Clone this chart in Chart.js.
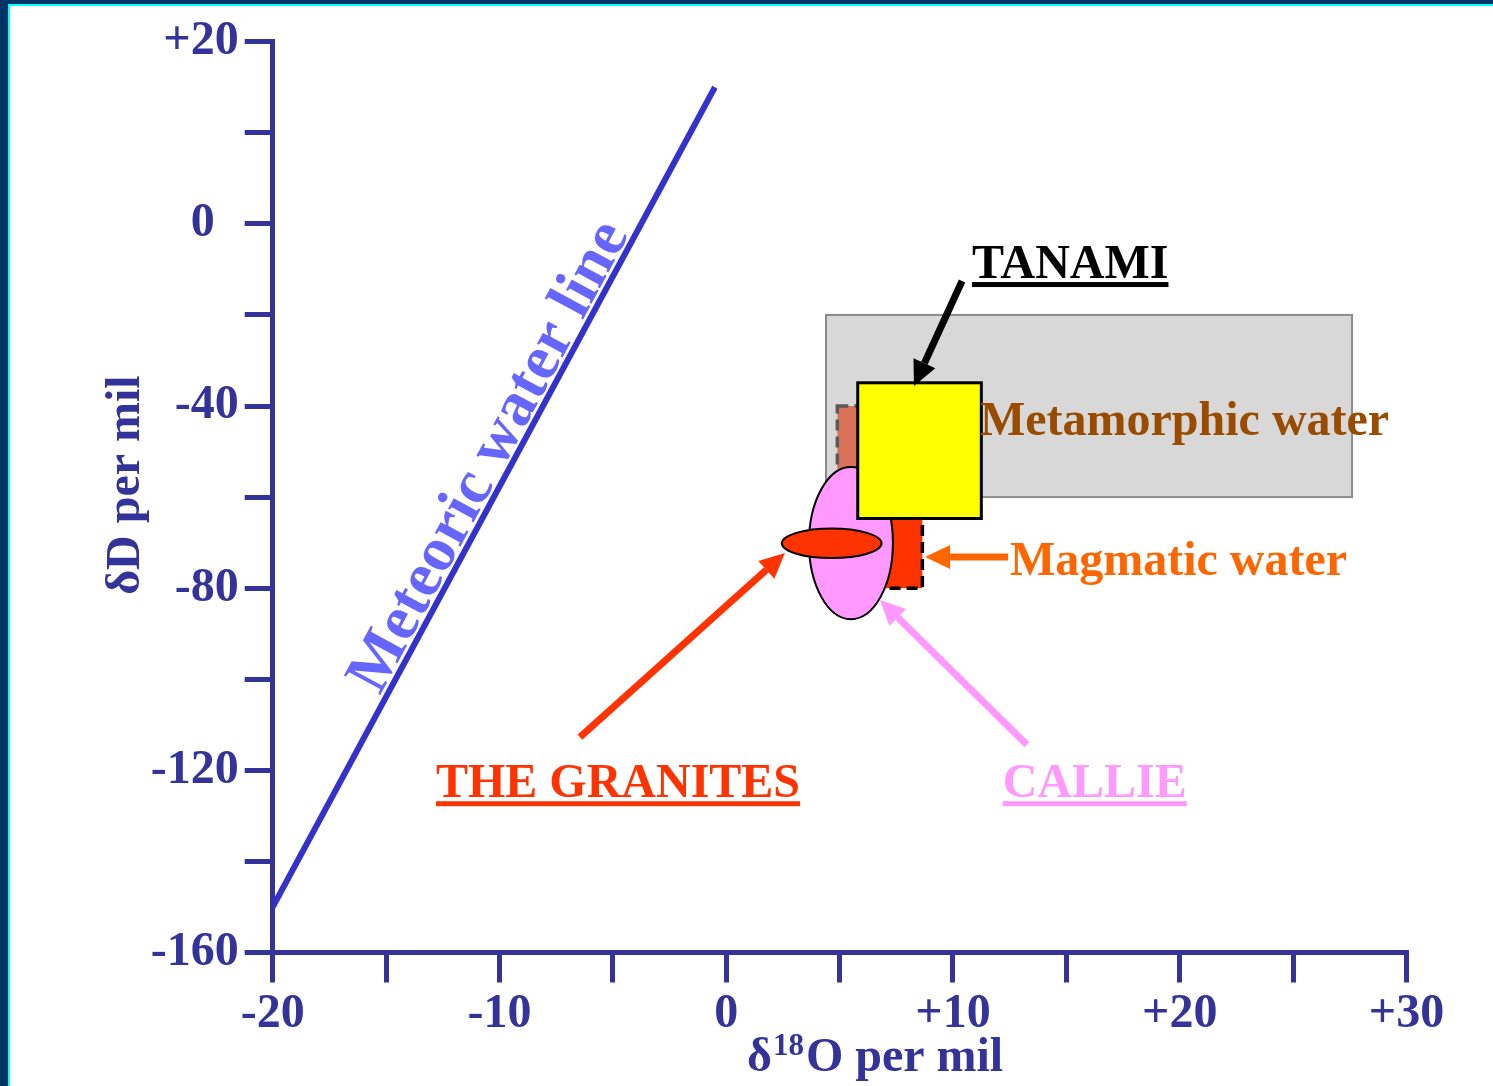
<!DOCTYPE html>
<html>
<head>
<meta charset="utf-8">
<script src="https://cdn.jsdelivr.net/npm/chart.js@4.4.1/dist/chart.umd.min.js"></script>
<style>
  html,body{margin:0;padding:0;background:#fff;}
  #wrap{position:absolute;left:0;top:0;width:1493px;height:1086px;}
</style>
</head>
<body>
<div id="wrap"><canvas id="c" width="1493" height="1086"></canvas></div>
<script>
// ═══════════════════════════════════════════════════════════════
// DATA  (δ18O on x, δD on y, per mil)
// ═══════════════════════════════════════════════════════════════
const mwlX = [-20, -0.5];            // meteoric water line ends
const mwlY = [-150, 30];

const xTickValues = [-20, -10, 0, 10, 20, 30];
const xTickLabels = ['-20', '-10', '0', '+10', '+20', '+30'];
const yTickValues = [40, 0, -40, -80, -120, -160];
const yTickLabels = ['+20', '0\u2002', '-40', '-80', '-120', '-160'];

// fields as [xMin, xMax, yMin, yMax]
const magmaticBox    = [4.9, 8.65, -80, -40];
const metamorphicBox = [4.4, 27.6, -60, -20];
const tanamiBox      = [5.8, 11.25, -64.7, -34.9];
const callieEllipse  = [3.65, 7.35, -86.8, -53.4];
const granitesEllipse= [2.45, 6.85, -73.4, -66.9];

// labels with their arrows
const arrowNames  = ['TANAMI', 'Magmatic water', 'THE GRANITES', 'CALLIE'];
const arrowFromX  = [10.4, 12.43, -6.45, 13.26];
const arrowFromY  = [-12.55, -73.15, -112.7, -114.4];
const arrowToX    = [8.28, 8.77, 2.59, 6.78];
const arrowToY    = [-35.6, -73.15, -72.3, -82.6];

const labelNames  = ['TANAMI', 'Metamorphic water', 'Magmatic water', 'THE GRANITES', 'CALLIE'];
const labelX      = [10.84, 11.19, 12.51, -12.8, 12.19];
const labelY      = [-11.9, -46.4, -77.0, -125.9, -125.9];

const NAVY = '#333399';
const FONT = '"Liberation Serif","Times New Roman",serif';
const arrowColors = {'TANAMI':'#000000','Magmatic water':'#FF6600','THE GRANITES':'#FF3300','CALLIE':'#FF99FF'};
const labelStyle = {
  'TANAMI':{color:'#000000',under:true},
  'Metamorphic water':{color:'#994C00',under:false},
  'Magmatic water':{color:'#FF6600',under:false},
  'THE GRANITES':{color:'#FF3300',under:true},
  'CALLIE':{color:'#FF99FF',under:true}
};

// ═══════════════════════════════════════════════════════════════
// DRAW HELPERS
// ═══════════════════════════════════════════════════════════════
function px(sc, v){ return sc.getPixelForValue(v); }

function boxPx(ch, b){
  const xs=ch.scales.x, ys=ch.scales.y;
  const x0=px(xs,b[0]), x1=px(xs,b[1]), y0=px(ys,b[3]), y1=px(ys,b[2]);
  return {x:x0, y:y0, w:x1-x0, h:y1-y0};
}

function drawArrow(ctx, x1, y1, x2, y2, color){
  const ang=Math.atan2(y2-y1, x2-x1), hl=25, hw=12;
  const bx=x2-hl*Math.cos(ang), by=y2-hl*Math.sin(ang);
  ctx.save();
  ctx.strokeStyle=color; ctx.fillStyle=color; ctx.lineWidth=7; ctx.lineCap='butt';
  ctx.beginPath(); ctx.moveTo(x1,y1); ctx.lineTo(bx,by); ctx.stroke();
  ctx.beginPath();
  ctx.moveTo(x2,y2);
  ctx.lineTo(bx+hw*Math.sin(ang), by-hw*Math.cos(ang));
  ctx.lineTo(bx-hw*Math.sin(ang), by+hw*Math.cos(ang));
  ctx.closePath(); ctx.fill();
  ctx.restore();
}

function drawEllipse(ctx, ch, e, fill){
  const r=boxPx(ch,e);
  ctx.save();
  ctx.beginPath();
  ctx.ellipse(r.x+r.w/2, r.y+r.h/2, r.w/2, r.h/2, 0, 0, Math.PI*2);
  ctx.fillStyle=fill; ctx.fill();
  ctx.lineWidth=2; ctx.strokeStyle='#000'; ctx.stroke();
  ctx.restore();
}

// fields, arrows, labels, titles, frame
const overlay = {
  id:'overlay',
  afterDatasetsDraw(ch){
    const ctx=ch.ctx, xs=ch.scales.x, ys=ch.scales.y;
    ctx.save();
    // magmatic water field (under the translucent grey one)
    let r=boxPx(ch,magmaticBox);
    ctx.fillStyle='#FF3300'; ctx.fillRect(r.x,r.y,r.w,r.h);
    ctx.setLineDash([11,6]); ctx.lineWidth=3.5; ctx.strokeStyle='#000';
    ctx.strokeRect(r.x,r.y,r.w,r.h);
    ctx.setLineDash([]);
    // metamorphic water field
    r=boxPx(ch,metamorphicBox);
    ctx.fillStyle='rgba(177,177,177,0.5)'; ctx.fillRect(r.x,r.y,r.w,r.h);
    ctx.lineWidth=2; ctx.strokeStyle='#8c8c8c'; ctx.strokeRect(r.x,r.y,r.w,r.h);
    // deposits
    drawEllipse(ctx,ch,callieEllipse,'#FF99FF');
    drawEllipse(ctx,ch,granitesEllipse,'#FF3300');
    r=boxPx(ch,tanamiBox);
    ctx.fillStyle='#FFFF00'; ctx.fillRect(r.x,r.y,r.w,r.h);
    ctx.lineWidth=3; ctx.strokeStyle='#000'; ctx.strokeRect(r.x,r.y,r.w,r.h);

    arrowNames.forEach((n,i)=>{
      drawArrow(ctx, px(xs,arrowFromX[i]), px(ys,arrowFromY[i]), px(xs,arrowToX[i]), px(ys,arrowToY[i]), arrowColors[n]);
    });

    ctx.font='bold 48px '+FONT; ctx.textAlign='left'; ctx.textBaseline='alphabetic';
    labelNames.forEach((n,i)=>{
      const st=labelStyle[n], lx=px(xs,labelX[i]), ly=px(ys,labelY[i]);
      ctx.fillStyle=st.color; ctx.fillText(n,lx,ly);
      if(st.under){
        const w=ctx.measureText(n).width;
        ctx.fillRect(lx,ly+4,w,5);
      }
    });

    // meteoric water line label, along the line
    const ax=px(xs,mwlX[0]), ay=px(ys,mwlY[0]), bx=px(xs,mwlX[1]), by=px(ys,mwlY[1]);
    const ang=Math.atan2(by-ay,bx-ax);
    const mx=px(xs,-9.55), my=px(ys,-53.6);
    ctx.save();
    ctx.translate(mx,my); ctx.rotate(ang); ctx.translate(0,-6);
    ctx.font='bold 63px '+FONT; ctx.fillStyle='#6666FF'; ctx.textAlign='center';
    ctx.fillText('Meteoric water line',0,0);
    ctx.restore();

    // axis titles
    ctx.fillStyle=NAVY; ctx.textAlign='left';
    const t1='\u03B4', t3='O per mil';
    ctx.font='bold 48px '+FONT; const w1=ctx.measureText(t1).width, w3=ctx.measureText(t3).width;
    ctx.font='bold 31px '+FONT; const w2=ctx.measureText('18').width;
    let tx=(xs.left+xs.right)/2 + 34 - (w1+w2+w3)/2, ty=1071;
    ctx.font='bold 48px '+FONT; ctx.fillText(t1,tx,ty);
    ctx.font='bold 31px '+FONT; ctx.fillText('18',tx+w1+1,ty-16);
    ctx.font='bold 48px '+FONT; ctx.fillText(t3,tx+w1+w2+3,ty);
    ctx.save();
    ctx.translate(139, (ys.top+ys.bottom)/2 -12); ctx.rotate(-Math.PI/2);
    ctx.textAlign='center'; ctx.fillText('\u03B4D per mil',0,0);
    ctx.restore();

    // slide frame
    ctx.fillStyle='#003366'; ctx.fillRect(0,0,1493,4); ctx.fillRect(0,0,8,1086);
    ctx.fillStyle='#00FFFF'; ctx.fillRect(8,4,1485,2); ctx.fillRect(8,4,2,1082);
    ctx.restore();
  }
};

// ═══════════════════════════════════════════════════════════════
// CHART
// ═══════════════════════════════════════════════════════════════
const tickFont = {family:FONT, weight:'bold', size:48};
new Chart(document.getElementById('c'), {
  type:'scatter',
  data:{datasets:[{
    label:'Meteoric water line',
    data:mwlX.map((x,i)=>({x, y:mwlY[i]})),
    showLine:true, borderColor:'#3333CC', borderWidth:6, pointRadius:0, borderCapStyle:'butt'
  }]},
  options:{
    responsive:false, animation:false, devicePixelRatio:1,
    layout:{padding:{top:41.7, right:1493-1406.5, left:0, bottom:0}},
    plugins:{legend:{display:false}, tooltip:{enabled:false}},
    scales:{
      x:{type:'linear', min:-20, max:30,
         afterBuildTicks:s=>{ s.ticks=[-20,-15,-10,-5,0,5,10,15,20,25,30].map(v=>({value:v})); },
         afterFit:s=>{ s.height=1086-952.5; },
         ticks:{color:NAVY, font:tickFont, padding:3, maxRotation:0, autoSkip:false,
           callback:v=>{ const k=xTickValues.indexOf(v); return k<0?'':xTickLabels[k]; }},
         grid:{drawOnChartArea:false, drawTicks:true, tickLength:30, lineWidth:5, color:NAVY},
         border:{display:true, color:NAVY, width:5}},
      y:{type:'linear', min:-160, max:40,
         afterBuildTicks:s=>{ s.ticks=[40,20,0,-20,-40,-60,-80,-100,-120,-140,-160].map(v=>({value:v})); },
         afterFit:s=>{ s.width=272.7; },
         ticks:{color:NAVY, font:tickFont, padding:6, autoSkip:false,
           callback:v=>{ const k=yTickValues.indexOf(v); return k<0?'':yTickLabels[k]; }},
         grid:{drawOnChartArea:false, drawTicks:true, tickLength:28, lineWidth:5, color:NAVY},
         border:{display:true, color:NAVY, width:5}}
    }
  },
  plugins:[overlay]
});
</script>
</body>
</html>
